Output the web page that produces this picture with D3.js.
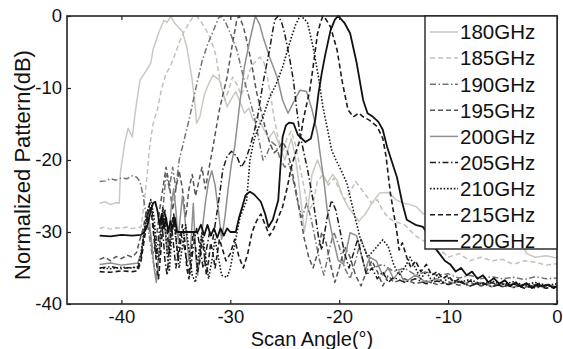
<!DOCTYPE html>
<html>
<head>
<meta charset="utf-8">
<script src="https://cdn.jsdelivr.net/npm/d3@7"></script>
<style>
  body { margin: 0; background: #fff; }
  svg text { font-family: Arial, "Liberation Sans", Helvetica, sans-serif; fill: #111; }
</style>
</head>
<body>
<svg id="chart" width="563" height="349"></svg>
<script>
// frequencies shown in the legend
const freqs = ['180GHz', '185GHz', '190GHz', '195GHz', '200GHz', '205GHz', '210GHz', '215GHz', '220GHz'];

// [scan angle (deg), normalized pattern (dB)]
const s180 = [[-42,-26],[-41.5,-25.8],[-41,-26.2],[-40.5,-25.9],[-40.2,-26],[-40.1,-21.8],[-39.7,-17.7],[-39.4,-15.6],[-39,-16.8],[-38.7,-13],[-38.3,-8.9],[-37.8,-7.8],[-37.3,-6.5],[-37.1,-4.7],[-36.6,-2.4],[-36.1,-0.6],[-35.8,-0.9],[-35.5,0],[-35.1,-1],[-34.4,-2.2],[-34,-4.3],[-33.5,-8.9],[-33.2,-13],[-33.1,-14.9],[-32.8,-14],[-32.4,-11],[-32.1,-9.8],[-31.6,-8.2],[-31,-8.9],[-30.6,-11],[-30.3,-12.6],[-29.9,-11.5],[-29.5,-10.5],[-29.1,-12],[-28.7,-13.5],[-28.3,-12.8],[-27.9,-14.5],[-27.5,-14],[-27,-15.5],[-26.5,-17],[-26,-16],[-25.5,-18],[-25,-20],[-24.7,-18.5],[-24.4,-17],[-24.1,-19],[-23.8,-22],[-23.5,-26],[-23.2,-30],[-22.9,-27],[-22.5,-22],[-22,-20],[-21.5,-22],[-21.1,-23.2],[-20.6,-22],[-20.2,-22.8],[-19.7,-25],[-19.2,-26.5],[-18.7,-27.5],[-18.2,-28.5],[-17.6,-27.5],[-17,-26],[-16.3,-24.6],[-15.5,-24.5],[-14.8,-25.5],[-14.1,-26],[-13.5,-26.2],[-12.9,-26.5],[-12.3,-27.5],[-11.5,-27],[-10.5,-28],[-9.5,-27.5],[-8.5,-28.5],[-7.5,-28],[-6.5,-29],[-5.5,-29.5],[-4.5,-29.8],[-3.5,-30.5],[-2.8,-33],[-2,-33.5],[-1,-33.3],[0,-33.6]];

const s185 = [[-42,-29.5],[-41.5,-29.3],[-41,-29.6],[-40.5,-29.4],[-40,-29.5],[-39.5,-29.3],[-39,-29.5],[-38.5,-29.4],[-38.2,-29.3],[-38,-27],[-37.7,-23],[-37.4,-18],[-37.1,-15],[-36.7,-13],[-36.3,-10],[-35.9,-8],[-35.5,-7],[-35,-5],[-34.6,-3.3],[-34.2,-2],[-33.8,-1],[-33.5,-0.3],[-33.1,0],[-32.6,-1],[-32.2,-2],[-31.9,-2.9],[-31.5,-4.5],[-31.3,-5.7],[-31,-8.5],[-30.7,-10.5],[-30.5,-11.7],[-30.2,-10.5],[-29.8,-8.5],[-29.4,-9.5],[-29,-11],[-28.6,-9.5],[-28.2,-7.5],[-27.8,-6.5],[-27.3,-5.7],[-26.9,-6.5],[-26.6,-8.5],[-26.3,-11],[-26,-14],[-25.6,-17],[-25.2,-19],[-24.8,-17],[-24.4,-16],[-24,-18],[-23.6,-21],[-23.2,-24],[-22.8,-27],[-22.4,-26],[-22,-23],[-21.5,-22],[-21,-23.5],[-20.5,-22.5],[-20,-24],[-19.5,-25.5],[-19,-24.5],[-18.5,-23],[-18,-24],[-17.5,-25],[-17,-26],[-16.5,-25.5],[-16,-27],[-15.5,-28],[-15,-28.5],[-14,-29],[-13,-30.5],[-12,-31.5],[-11,-32],[-10,-33.5],[-9,-33],[-8,-34],[-7,-33.5],[-6,-34],[-5,-33.8],[-4,-34.5],[-3,-34],[-2,-34.2],[-1,-34.6],[0,-34.4]];

const s190 = [[-42,-23],[-41.5,-22.9],[-41,-22.6],[-40.5,-22.8],[-40,-22.5],[-39.5,-22.6],[-39,-22.2],[-38.6,-22.4],[-38.3,-23],[-38,-25],[-37.7,-28],[-37.4,-31],[-37.1,-34],[-36.8,-36],[-36.5,-33],[-36.2,-27],[-35.9,-22],[-35.6,-24],[-35.3,-21],[-35,-24],[-34.7,-20],[-34.4,-18.2],[-34.1,-16.3],[-33.8,-14.5],[-33.4,-11.7],[-33,-8.9],[-32.6,-6.3],[-32.1,-4],[-31.6,-2.2],[-31.1,-0.3],[-30.8,0],[-30.4,-1],[-30,-2.4],[-29.4,-4.7],[-28.8,-8.5],[-28.2,-11.7],[-27.8,-14],[-27.4,-17],[-27,-20],[-26.6,-19],[-26.2,-17.5],[-25.8,-18],[-25.4,-20],[-25,-21],[-24.6,-20.5],[-24.2,-23],[-23.8,-26],[-23.4,-28],[-23,-26],[-22.6,-28],[-22.2,-31],[-21.8,-34],[-21.4,-36],[-21,-33],[-20.5,-30],[-20,-32],[-19.5,-35],[-19,-36.5],[-18.5,-34],[-18,-31],[-17.5,-33],[-17,-35],[-16,-34.5],[-15,-35.5],[-14,-35],[-13,-36],[-12,-35.5],[-11,-36],[-10,-35.8],[-9,-36.4],[-8,-36],[-7,-36.5],[-6,-36.2],[-5,-36.5],[-4,-36.3],[-3,-36.6],[-2,-36.2],[-1,-36.5],[0,-36.4]];

const s195 = [[-42,-33.8],[-41.5,-33.5],[-41,-34],[-40.5,-33.4],[-40,-33.7],[-39.5,-33.2],[-39,-33.5],[-38.6,-32.8],[-38.3,-31],[-38,-29.5],[-37.7,-27],[-37.4,-30],[-37.1,-33],[-36.8,-31],[-36.5,-27],[-36.2,-24],[-35.9,-21],[-35.6,-23.5],[-35.3,-27],[-35,-24],[-34.7,-21.5],[-34.4,-24],[-34.1,-28],[-33.8,-24],[-33.5,-22],[-33.2,-25],[-32.9,-23],[-32.6,-21],[-32.3,-24],[-32,-21.5],[-31.6,-18.2],[-31,-13],[-30.3,-8.5],[-29.8,-3.8],[-29.4,-0.5],[-29.2,0],[-28.8,-1.5],[-28.4,-4],[-28,-7],[-27.6,-10.5],[-27.2,-13],[-26.8,-15.5],[-26.4,-17.5],[-26,-19],[-25.6,-18.5],[-25.2,-17.5],[-24.8,-18.5],[-24.4,-21],[-24,-24],[-23.6,-27.5],[-23.2,-31],[-22.8,-33.5],[-22.4,-35],[-22,-33],[-21.6,-30],[-21.2,-31.5],[-20.8,-34.5],[-20.4,-37],[-20,-35],[-19.5,-32],[-19,-33.5],[-18.5,-36],[-18,-37.5],[-17.5,-35.5],[-17,-34],[-16.5,-35.5],[-16,-37.5],[-15.5,-36],[-15,-37],[-14,-36.5],[-13,-37.2],[-12,-36.8],[-11,-37.3],[-10,-36.9],[-9,-37.4],[-8,-37],[-7,-37.5],[-6,-37.1],[-5,-37.6],[-4,-37.2],[-3,-37.7],[-2,-37.3],[-1,-37.6],[0,-37.4]];

const s200 = [[-42,-34.5],[-41,-34.3],[-40,-34.6],[-39,-34.4],[-38.5,-34.3],[-38.2,-33],[-37.9,-30],[-37.6,-27],[-37.4,-29],[-37.2,-32],[-37,-35],[-36.8,-37],[-36.6,-34],[-36.4,-30],[-36.2,-27],[-36,-29.5],[-35.8,-33],[-35.6,-30],[-35.4,-26],[-35.2,-24],[-35,-27],[-34.8,-31],[-34.6,-28],[-34.4,-25],[-34.2,-27.5],[-34,-31],[-33.8,-34],[-33.6,-31],[-33.4,-26],[-33.2,-33],[-33,-36],[-32.8,-33],[-32.6,-30],[-32.3,-26],[-32,-23],[-31.7,-21.5],[-31.4,-23.5],[-31.1,-27],[-30.8,-31],[-30.5,-28],[-30.2,-24],[-29.9,-20.5],[-29.6,-18.2],[-29.1,-11.7],[-28.7,-7],[-28.2,-3.3],[-27.7,0],[-27.3,-1.2],[-27,-2.9],[-26.4,-5.7],[-25.7,-8.5],[-25.2,-11.7],[-24.7,-13.5],[-24.2,-12],[-23.6,-10.3],[-23,-10.5],[-22.5,-13],[-22,-16.3],[-21.8,-18.6],[-21.4,-23],[-21.1,-27],[-20.6,-30.7],[-20.1,-33.9],[-19.6,-34.5],[-19,-30.1],[-18.4,-30.5],[-18,-33],[-17.6,-35.3],[-17.2,-33.5],[-16.6,-34],[-16,-36],[-15.5,-35],[-15,-36.5],[-14.5,-35.5],[-14,-37],[-13,-36],[-12,-37],[-11,-36.5],[-10,-37.3],[-9,-36.8],[-8,-37.5],[-7,-37],[-6,-37.6],[-5,-37.1],[-4,-37.7],[-3,-37.2],[-2,-37.6],[-1,-37.3],[0,-37.6]];

const s205 = [[-42,-35],[-41,-34.8],[-40,-35.1],[-39,-34.9],[-38.5,-35],[-38.2,-33.5],[-37.9,-30],[-37.6,-27.5],[-37.4,-26],[-37.2,-27],[-37,-30],[-36.8,-33.5],[-36.6,-31],[-36.4,-28],[-36.2,-30],[-36,-34],[-35.8,-36],[-35.6,-32],[-35.4,-29],[-35.2,-32],[-35,-35],[-34.8,-33],[-34.6,-30],[-34.3,-31.5],[-34,-34],[-33.7,-36],[-33.4,-32],[-33.1,-29.5],[-32.8,-32],[-32.5,-35],[-32.2,-32.5],[-31.9,-30],[-31.6,-31],[-31.3,-28],[-31,-25],[-30.7,-21.4],[-30.3,-19.5],[-29.9,-18.8],[-29.4,-19.5],[-29,-21],[-28.6,-20],[-28.2,-18.2],[-27.8,-16],[-27.5,-14],[-27,-9.3],[-26.4,-4.7],[-26.1,-2],[-25.9,-0.5],[-25.6,0],[-25.3,-0.8],[-25,-2.5],[-24.6,-5.5],[-24.2,-9],[-23.9,-13],[-23.6,-16.5],[-23.3,-18.6],[-22.9,-21.4],[-22.4,-25.6],[-21.9,-30.7],[-21.6,-32.5],[-21.1,-27.9],[-20.7,-25.6],[-20.3,-27],[-19.9,-30],[-19.5,-33],[-19.1,-35],[-18.7,-33],[-18.3,-31],[-17.9,-33.5],[-17.5,-36],[-17,-35],[-16.5,-36.5],[-16,-35.5],[-15.5,-37],[-15,-36.3],[-14,-37],[-13,-36.5],[-12,-37.2],[-11,-36.8],[-10,-37.3],[-9,-36.9],[-8,-37.5],[-7,-37],[-6,-37.6],[-5,-37.2],[-4,-37.7],[-3,-37.3],[-2,-37.8],[-1,-37.4],[0,-37.7]];

const s210 = [[-42,-35],[-41,-35.1],[-40,-34.9],[-39,-35],[-38.5,-34.8],[-38.2,-33],[-37.9,-29.5],[-37.6,-27],[-37.3,-25.5],[-37,-28],[-36.8,-32],[-36.6,-34],[-36.4,-30],[-36.2,-26.5],[-36,-29],[-35.8,-33],[-35.6,-35.5],[-35.4,-31],[-35.2,-28],[-35,-31],[-34.7,-35],[-34.4,-32],[-34.1,-29],[-33.8,-32.5],[-33.5,-36],[-33.2,-37],[-32.9,-33],[-32.6,-30],[-32.3,-33],[-32,-36.5],[-31.7,-34],[-31.4,-31],[-31.1,-33.5],[-30.8,-36],[-30.3,-36.3],[-30,-35],[-29.7,-32.5],[-29.1,-27.9],[-28.5,-25.6],[-28.2,-20],[-27.8,-17],[-27.4,-15.5],[-27,-14],[-26.4,-11.3],[-25.8,-9.5],[-25.2,-7.1],[-24.8,-5],[-24.4,-3],[-24,-1.2],[-23.6,0],[-23.2,-0.4],[-22.9,-1],[-22.4,-4.3],[-21.9,-8.5],[-21.5,-12.6],[-21,-16.3],[-20.7,-18.6],[-20.3,-20],[-19.8,-21.5],[-19.3,-23.2],[-18.7,-27],[-18.1,-30.7],[-17.4,-33.5],[-16.8,-32.5],[-16,-31.1],[-15.5,-32],[-15,-34.5],[-14.5,-36],[-14,-35],[-13.5,-33.5],[-13,-35],[-12.5,-36.5],[-12,-35.5],[-11.5,-36.8],[-11,-36],[-10.5,-37],[-10,-36.4],[-9,-37],[-8,-36.6],[-7,-37.2],[-6,-36.8],[-5,-37.3],[-4,-36.9],[-3,-37.4],[-2,-37],[-1,-37.4],[0,-37.2]];

const s215 = [[-42,-35.5],[-41,-35.6],[-40,-35.4],[-39,-35.5],[-38.5,-35.4],[-38.2,-34],[-37.9,-31],[-37.6,-28],[-37.4,-26.5],[-37.2,-28],[-37,-31],[-36.8,-34],[-36.6,-36.5],[-36.4,-33],[-36.2,-29],[-36,-27],[-35.8,-30],[-35.6,-33],[-35.4,-29],[-35.2,-27.5],[-35,-30.5],[-34.8,-34],[-34.6,-32],[-34.4,-29],[-34.2,-31],[-34,-35],[-33.8,-36.5],[-33.6,-33],[-33.4,-30],[-33.2,-32],[-33,-35.5],[-32.8,-34],[-32.6,-31],[-32.4,-33],[-32.2,-36],[-32,-34],[-31.8,-31.5],[-31.6,-33],[-31.4,-35],[-31.2,-33],[-31,-31],[-30.7,-32.5],[-30.4,-34],[-30,-33],[-29.6,-31],[-29.2,-33.5],[-28.8,-35],[-28.4,-33],[-28,-30],[-27.6,-28.5],[-27.2,-27.5],[-26.8,-29],[-26.4,-30.5],[-26,-29.5],[-25.6,-28],[-25.2,-26.5],[-24.8,-24],[-24.4,-21],[-24,-19],[-23.6,-17.2],[-23.3,-14.4],[-22.7,-10.3],[-22.3,-6],[-22,-2.5],[-21.7,-0.8],[-21.5,0],[-21.2,-0.5],[-20.8,-1.5],[-20.2,-4.7],[-19.7,-9.3],[-19.2,-13],[-18.7,-14],[-18.2,-13.5],[-17.8,-14],[-17.2,-14.5],[-16.5,-15.4],[-16,-17],[-15.7,-19.5],[-15.3,-24.6],[-14.7,-30.1],[-14.5,-32.5],[-14.2,-31.5],[-13.8,-33.5],[-13.4,-35],[-13,-34],[-12.5,-35.5],[-12,-34.5],[-11.5,-36],[-11,-35.5],[-10.5,-36.5],[-10,-36],[-9.5,-37],[-9,-36.5],[-8.5,-37.2],[-8,-36.8],[-7,-37.4],[-6,-37],[-5,-37.6],[-4,-37.2],[-3,-37.8],[-2,-37.4],[-1,-37.8],[0,-37.6]];

const s220 = [[-42,-30.5],[-41,-30.6],[-40,-30.4],[-39,-30.5],[-38.2,-30.4],[-37.9,-30],[-37.6,-29],[-37.3,-27],[-37.1,-26],[-36.9,-25.8],[-36.7,-27],[-36.5,-29],[-36.3,-27.5],[-36.1,-29.5],[-35.9,-28],[-35.7,-30],[-35.5,-28.5],[-35.3,-29.5],[-35.1,-28],[-34.9,-30],[-34.6,-30],[-34,-30],[-33.5,-30],[-33,-30],[-32.7,-29],[-32.4,-30.5],[-32.1,-29],[-31.8,-30.5],[-31.5,-29.5],[-31.2,-30.8],[-30.9,-29.5],[-30.6,-30.5],[-30.3,-29.5],[-30,-30],[-29.5,-30],[-29.2,-28],[-28.9,-26.5],[-28.6,-24.9],[-28.2,-24.4],[-27.8,-24.8],[-27.2,-25.8],[-26.8,-27.5],[-26.5,-29.3],[-26.1,-28.3],[-25.6,-25.6],[-25.4,-21],[-25.2,-16.8],[-24.9,-15.2],[-24.6,-14.8],[-24.2,-14.9],[-23.8,-16.5],[-23.1,-17.5],[-22.6,-17],[-22.2,-14.4],[-21.9,-10.7],[-21.6,-7.9],[-21.3,-5.5],[-20.8,-2],[-20.4,-0.5],[-20.1,0],[-19.5,-1],[-19,-2.4],[-18.4,-6.5],[-17.8,-11.7],[-17.4,-13.5],[-16.9,-14],[-16.4,-14.7],[-16,-15.8],[-15.6,-18.2],[-14.7,-22.4],[-14.2,-26],[-13.8,-28.3],[-13,-29],[-12.3,-29.3],[-11.8,-30.5],[-11.3,-32],[-10.8,-33],[-10.3,-34],[-9.8,-34.5],[-9.3,-35.5],[-8.8,-35],[-8.3,-36],[-7.8,-35.5],[-7.3,-36.5],[-6.8,-36],[-6.3,-37],[-5.8,-36.4],[-5.3,-37.2],[-4.8,-36.7],[-4.3,-37.5],[-3.8,-37],[-3.3,-37.6],[-2.8,-37.1],[-2.3,-37.8],[-1.8,-37.2],[-1.3,-37.6],[-0.8,-37.3],[-0.3,-37.8],[0,-37.5]];

const xTicks = [-40, -30, -20, -10, 0];
const yTicks = [0, -10, -20, -30, -40];

const allSeries = [s180, s185, s190, s195, s200, s205, s210, s215, s220];

// line look per frequency
const styles = [
  { color: '#c9c9c1', dash: null, width: 1.5 },
  { color: '#c2c2ba', dash: '5,3', width: 1.5 },
  { color: '#747474', dash: '6,2.5,1.5,2.5', width: 1.5 },
  { color: '#555555', dash: '5,3', width: 1.5 },
  { color: '#8e8e8e', dash: null, width: 1.5 },
  { color: '#1c1c1c', dash: '6,2.5,1.5,2.5', width: 1.5 },
  { color: '#1c1c1c', dash: '1.6,1.8', width: 1.6 },
  { color: '#1c1c1c', dash: '5,3', width: 1.6 },
  { color: '#111111', dash: null, width: 1.8 }
];

const svg = d3.select('#chart');
const m = { left: 67, right: 557, top: 16, bottom: 304 };

const x = d3.scaleLinear().domain([-45, 0]).range([m.left, m.right]);
const y = d3.scaleLinear().domain([-40, 0]).range([m.bottom, m.top]);

svg.append('defs').append('clipPath').attr('id', 'plotClip')
  .append('rect').attr('x', m.left).attr('y', m.top - 1).attr('width', m.right - m.left).attr('height', m.bottom - m.top + 1);

const line = d3.line().x(d => x(d[0])).y(d => y(d[1]));

const curves = svg.append('g').attr('clip-path', 'url(#plotClip)');
allSeries.forEach((data, i) => {
  const st = styles[i];
  curves.append('path')
    .datum(data)
    .attr('d', line)
    .attr('fill', 'none')
    .attr('stroke', st.color)
    .attr('stroke-width', st.width)
    .attr('stroke-dasharray', st.dash)
    .attr('stroke-linejoin', 'round');
});

// axes, ticks pointing inward; plain hyphen for negatives like the figure
const fmt = d => String(d);
const fontSize = 18.5;
svg.append('g').attr('transform', `translate(0,${m.bottom})`)
  .call(d3.axisBottom(x).tickValues(xTicks).tickSize(-4).tickPadding(6).tickFormat(fmt));
svg.append('g').attr('transform', `translate(${m.left},0)`)
  .call(d3.axisLeft(y).tickValues(yTicks).tickSize(-4).tickPadding(5).tickFormat(fmt));
svg.append('g').attr('transform', `translate(0,${m.top})`)
  .call(d3.axisTop(x).tickValues(xTicks).tickSize(-4).tickFormat(''));
svg.append('g').attr('transform', `translate(${m.right},0)`)
  .call(d3.axisRight(y).tickValues(yTicks).tickSize(-4).tickFormat(''));

svg.selectAll('.domain').remove();
svg.selectAll('.tick line').attr('stroke', '#222').attr('stroke-width', 1.2);
svg.selectAll('.tick text').attr('font-size', fontSize).attr('font-family', 'Arial, "Liberation Sans", sans-serif').attr('fill', '#111');

svg.append('rect')
  .attr('x', m.left).attr('y', m.top)
  .attr('width', m.right - m.left).attr('height', m.bottom - m.top)
  .attr('fill', 'none').attr('stroke', '#222').attr('stroke-width', 1.6);

// axis titles
svg.append('text')
  .attr('x', (m.left + m.right) / 2).attr('y', 345.5)
  .attr('text-anchor', 'middle').attr('font-size', 20)
  .text('Scan Angle(°)');
svg.append('text')
  .attr('transform', `translate(30,${(m.top + m.bottom) / 2 + 5}) rotate(-90)`)
  .attr('text-anchor', 'middle').attr('font-size', 22)
  .text('Normalized Pattern(dB)');

// legend
const lg = svg.append('g');
lg.append('rect')
  .attr('x', 425).attr('y', m.top).attr('width', m.right - 425).attr('height', 233)
  .attr('fill', '#fff').attr('stroke', '#222').attr('stroke-width', 1.4);
const items = lg.selectAll('.item').data(freqs).enter().append('g')
  .attr('transform', (d, i) => `translate(0,${32 + i * 26.1})`);
items.append('line')
  .attr('x1', 430).attr('x2', 458).attr('y1', 0).attr('y2', 0)
  .attr('stroke', (d, i) => styles[i].color)
  .attr('stroke-width', (d, i) => styles[i].width)
  .attr('stroke-dasharray', (d, i) => styles[i].dash);
items.append('text')
  .attr('x', 460).attr('y', 0).attr('dy', '0.36em')
  .attr('font-size', 20.5)
  .text(d => d);
</script>
</body>
</html>
